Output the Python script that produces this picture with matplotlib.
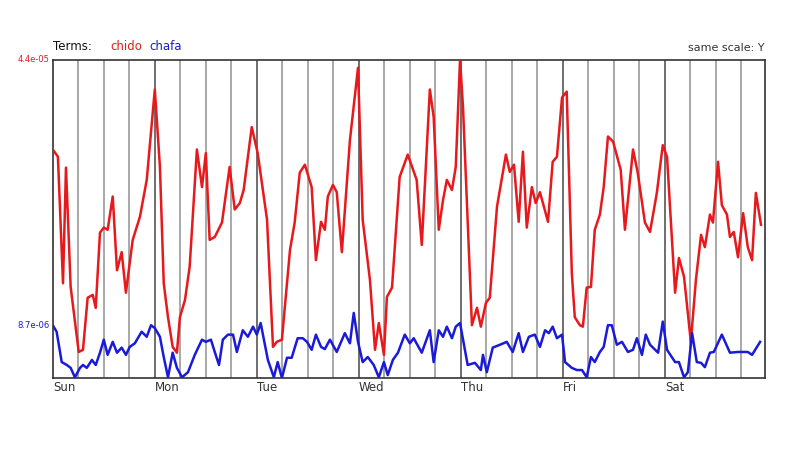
import matplotlib
matplotlib.use("Agg")
import matplotlib.pyplot as plt

# hours since Sunday 00:00, values in units of 1e-6
chido_h = [0, 1.2, 2.4, 3.1, 4.2, 6.1, 7.1, 8.2, 9.4, 10.1, 11.1, 12.0, 12.9, 14.1, 15.1, 16.2, 17.2, 18.8, 20.5, 22.1,
           24.0, 25.2, 26.1, 27.1, 28.2, 29.2, 29.9, 31.1, 32.2, 33.9, 35.1, 36.0, 36.9, 38.1, 39.8, 41.6, 42.8, 44.0, 44.9, 46.8,
           48.2, 50.4, 51.8, 52.7, 53.9, 55.8, 56.9, 58.1, 59.3, 60.9, 61.9, 63.1, 64.0, 64.7, 65.9, 66.8, 68.0, 69.9, 71.8,
           72.9, 74.6, 75.8, 76.7, 77.9, 78.6, 79.8, 81.6, 83.5, 85.6, 86.8, 88.7, 89.6, 90.8, 91.8, 92.7, 93.9, 94.8, 95.8,
           96.5, 98.6, 99.8, 100.7, 101.9, 102.8, 104.5, 106.6, 107.5, 108.5, 109.6, 110.6, 111.5, 112.7, 113.6, 114.6, 116.5,
           117.6, 118.6, 119.8, 120.9, 122.1, 122.8, 124.0, 124.7, 125.6, 126.6, 127.5, 128.7, 129.6, 130.6, 131.8, 133.6,
           134.6, 136.5, 137.6, 139.3, 140.5, 142.1, 143.5, 144.5, 146.4, 147.3, 148.5, 150.1, 151.3, 152.5, 153.4, 154.6,
           155.3, 156.5, 157.4, 158.6, 159.3, 160.2, 161.2, 162.4, 163.5, 164.5, 165.4, 166.6]
chido_v = [31.6, 30.6, 13.1, 29.1, 12.6, 3.6, 3.9, 11.1, 11.5, 9.7, 20.1, 20.8, 20.5, 25.1, 14.9, 17.4, 11.8, 19.1, 22.3, 27.4,
           39.9, 29.2, 13.1, 8.4, 4.3, 3.5, 8.4, 10.8, 15.4, 31.6, 26.4, 31.1, 19.1, 19.5, 21.5, 29.2, 23.3, 24.2, 26.0, 34.7,
           31.1, 21.9, 4.3, 5.0, 5.3, 17.7, 21.5, 28.4, 29.5, 26.4, 16.3, 21.6, 20.5, 25.1, 26.7, 25.7, 17.4, 32.9, 42.9,
           21.9, 13.6, 3.9, 7.6, 3.2, 11.2, 12.5, 27.8, 30.9, 27.4, 18.4, 39.9, 36.1, 20.5, 24.6, 27.4, 26.0, 29.2, 44.0,
           37.5, 7.3, 9.7, 7.1, 10.4, 11.1, 23.7, 30.9, 28.5, 29.5, 21.6, 31.3, 20.8, 26.4, 24.2, 25.7, 21.6,
           29.9, 30.6, 38.8, 39.6, 14.5, 8.4, 7.3, 7.1, 12.5, 12.6, 20.5, 22.6, 26.4, 33.4, 32.7, 28.8,
           20.5, 31.6, 28.4, 21.5, 20.2, 25.6, 32.2, 30.6, 11.8, 16.6, 14.0, 5.0, 13.6, 19.8, 18.1, 22.6,
           21.5, 29.9, 23.9, 22.6, 19.5, 20.2, 16.7, 22.8, 18.1, 16.3, 25.6, 21.2]

chafa_h = [0, 0.9, 2.1, 3.3, 4.2, 5.2, 6.4, 7.1, 8.0, 9.2, 10.1, 11.1, 12.0, 12.9, 14.1, 15.1, 16.2, 17.2, 18.1, 19.3, 20.9,
           22.1, 23.1, 24.0, 25.2, 26.1, 27.1, 28.2, 29.2, 30.4, 31.8, 33.4, 35.1, 36.0, 37.2, 38.1, 39.1, 40.0, 41.2, 42.4,
           43.3, 44.7, 45.9, 47.1, 48.0, 48.9, 50.6, 52.0, 52.9, 53.9, 55.1, 56.2, 57.6, 58.8, 59.8, 60.9, 61.9, 63.1, 64.0,
           65.2, 66.8, 68.7, 69.9, 70.8, 71.8, 72.9, 74.1, 75.5, 76.7, 77.9, 78.8, 80.0, 81.2, 82.8, 84.0, 84.9, 86.8, 88.7,
           89.6, 90.8, 91.8, 92.7, 93.9, 94.8, 95.8, 97.6, 99.3, 100.7, 101.2, 102.1, 103.5, 105.2, 106.8, 108.2, 109.6,
           110.6, 112.0, 113.4, 114.6, 115.8, 116.7, 117.6, 118.6, 119.8, 120.5, 122.1, 123.3, 124.5, 125.6, 126.6, 127.5,
           128.7, 129.6, 130.6, 131.5, 132.7, 133.9, 135.3, 136.5, 137.4, 138.6, 139.5, 140.5, 142.4, 143.5, 144.5, 146.4,
           147.3, 148.5, 149.4, 150.4, 151.5, 152.5, 153.4, 154.6, 155.5, 157.4, 159.3, 161.2, 163.5, 164.5, 166.4]
chafa_v = [7.3, 6.4, 2.2, 1.8, 1.4, 0.1, 1.4, 1.8, 1.4, 2.5, 1.8, 3.5, 5.3, 3.2, 5.0, 3.5, 4.2, 3.2, 4.3, 4.8, 6.4,
           5.7, 7.3, 6.9, 5.7, 2.9, 0.1, 3.5, 1.4, 0.1, 0.8, 3.2, 5.3, 5.0, 5.3, 3.6, 1.8, 5.3, 6.0, 6.0,
           3.6, 6.6, 5.7, 7.1, 6.0, 7.6, 2.5, 0.1, 2.2, 0.0, 2.8, 2.8, 5.5, 5.5, 5.0, 3.9, 6.0, 4.3, 4.0,
           5.3, 3.6, 6.2, 4.8, 9.0, 5.0, 2.2, 2.9, 1.8, 0.1, 2.2, 0.4, 2.5, 3.5, 6.0, 4.8, 5.5, 3.5, 6.6,
           2.2, 6.6, 5.7, 7.1, 5.5, 7.1, 7.6, 1.8, 2.1, 1.1, 3.2, 0.8, 4.2, 4.6, 5.0, 3.6, 6.2,
           3.6, 5.7, 6.0, 4.3, 6.6, 6.2, 7.1, 5.5, 6.0, 2.2, 1.4, 1.1, 1.1, 0.1, 2.9, 2.2,
           3.6, 4.3, 7.3, 7.3, 4.6, 5.0, 3.6, 3.9, 5.5, 3.2, 6.0, 4.6, 3.5, 7.8, 3.9, 2.2,
           2.2, 0.1, 0.8, 6.2, 2.2, 2.1, 1.5, 3.5, 3.6, 6.0, 3.5, 3.6, 3.6, 3.2, 5.0]

days = ['Sun', 'Mon', 'Tue', 'Wed', 'Thu', 'Fri', 'Sat']

fig = plt.figure(figsize=(8, 4.5), dpi=100)
ax = fig.add_axes([0.066, 0.16, 0.89, 0.707])

for h in range(6, 168, 6):
    if h % 24 == 0:
        ax.axvline(h, color='#555555', lw=1.2, zorder=1)
    else:
        ax.axvline(h, color='#999999', lw=1.2, zorder=1)

ax.plot(chido_h, chido_v, color='#e8191c', lw=1.8, zorder=3)
ax.plot(chafa_h, chafa_v, color='#1a1ad8', lw=1.8, zorder=3)

ax.set_xlim(0, 167.5)
ax.set_ylim(0, 44)
ax.set_yticks([])
ax.set_xticks([24 * i for i in range(7)])
ax.set_xticklabels(days, ha='left', fontsize=8.5, color='#333333')
ax.tick_params(axis='x', length=0, pad=2)
for s in ax.spines.values():
    s.set_color('#333333')
    s.set_linewidth(1.2)

ax.text(-0.7, 44, '4.4e-05', color='#e8191c', fontsize=6, ha='right', va='center')
ax.text(-0.7, 7.3, '8.7e-06', color='#1a1ad8', fontsize=6, ha='right', va='center')

ax.text(0, 45, 'Terms:', fontsize=8.5, color='#111111', ha='left', va='bottom')
ax.text(13.5, 45, 'chido', fontsize=8.5, color='#e8191c', ha='left', va='bottom')
ax.text(22.8, 45, 'chafa', fontsize=8.5, color='#1a1ad8', ha='left', va='bottom')
ax.text(167.5, 45, 'same scale: Y', fontsize=8, color='#333333', ha='right', va='bottom')

fig.savefig('out.png', dpi=100)
